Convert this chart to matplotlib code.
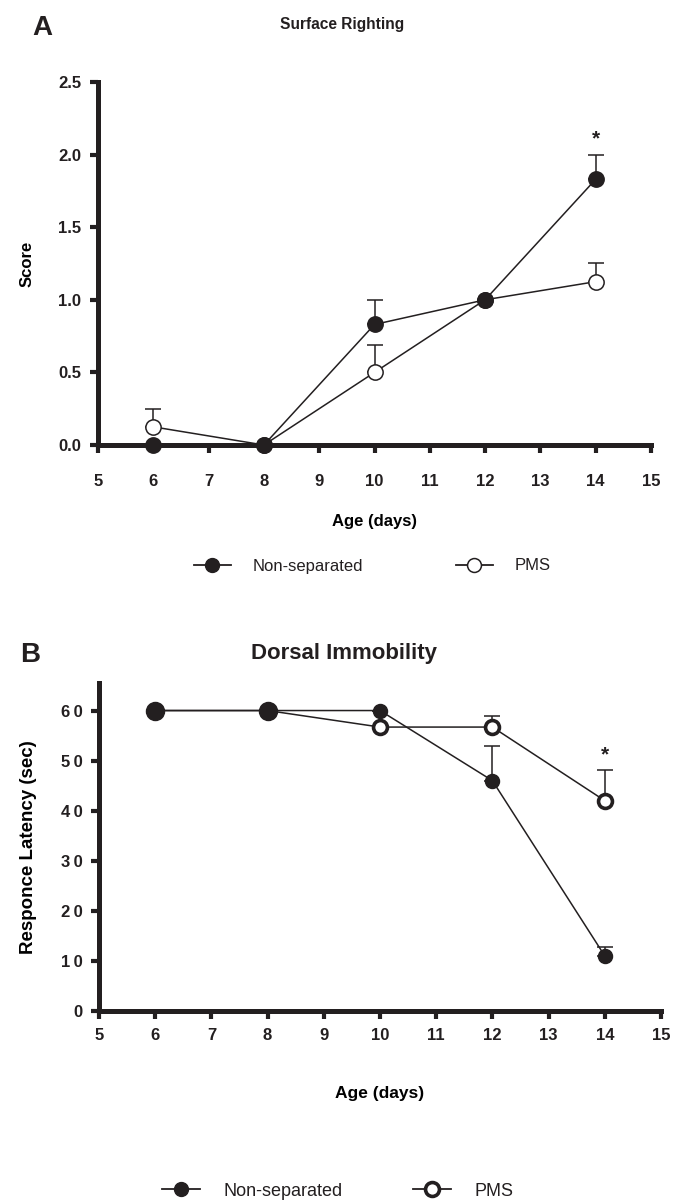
import numpy as np
import matplotlib
matplotlib.use("Agg")
import matplotlib.pyplot as plt
from matplotlib.lines import Line2D

plt.rcParams['font.family'] = ['Liberation Sans', 'DejaVu Sans']

# ---------------- data ----------------
days = [6, 8, 10, 12, 14]

# Surface righting (score)
sr_ns = [0.0, 0.0, 0.83, 1.0, 1.83]
sr_ns_err = [0.0, 0.0, 0.17, 0.0, 0.17]
sr_pms = [0.125, 0.0, 0.5, 1.0, 1.125]
sr_pms_err = [0.125, 0.0, 0.19, 0.0, 0.125]

# Dorsal immobility (response latency, sec)
di_ns = [60, 60, 60, 46, 11]
di_ns_err = [0, 0, 0, 7, 1.7]
di_pms = [60, 60, 56.7, 56.7, 42]
di_pms_err = [0, 0, 0, 2.2, 6.2]

xticks = list(range(5, 16))
sr_yticks = [0.0, 0.5, 1.0, 1.5, 2.0, 2.5]
di_yticks = [0, 10, 20, 30, 40, 50, 60]
labels = ['Non-separated', 'PMS']

INK = '#231f20'

fig = plt.figure(figsize=(6.79, 12.01), dpi=100)
axA = fig.add_axes([98 / 679, 1 - 445 / 1201, 553 / 679, 363 / 1201])
axB = fig.add_axes([99 / 679, 1 - 1011 / 1201, 562 / 679, 328 / 1201])


def style_axes(ax, pad):
    for s in ['top', 'right']:
        ax.spines[s].set_visible(False)
    for s in ['left', 'bottom']:
        ax.spines[s].set_linewidth(3.6)
        ax.spines[s].set_color(INK)
    ax.tick_params(direction='out', length=6, width=3, colors=INK,
                   labelsize=12)
    ax.tick_params(axis='x', pad=pad)
    ax.tick_params(axis='y', pad=6)
    for lab in ax.get_xticklabels() + ax.get_yticklabels():
        lab.set_fontweight('bold')


def draw_series(ax, y, err, filled, ms, mew):
    yerr = [np.zeros(len(err)), err]
    ax.errorbar(days, y, yerr=yerr, fmt='none', ecolor=INK,
                elinewidth=1.1, capsize=6, capthick=1.1, zorder=2)
    ax.plot(days, y, '-', color=INK, lw=1.1,
            marker='o', ms=ms, mew=mew,
            mfc=INK if filled else 'white', mec=INK, zorder=3)


# ---------------- panel A ----------------
draw_series(axA, sr_pms, sr_pms_err, False, 11, 1.1)
draw_series(axA, sr_ns, sr_ns_err, True, 11, 1.1)
axA.set_xlim(5, 15)
axA.set_ylim(0, 2.5)
axA.set_xticks(xticks)
axA.set_yticks(sr_yticks)
axA.set_yticklabels(['%.1f' % v for v in sr_yticks])
for art in axA.get_children():
    art.set_clip_on(False)
style_axes(axA, 15)
axA.set_xlabel('Age (days)', fontsize=12, fontweight='bold')
axA.xaxis.set_label_coords(0.5, -0.19)
axA.set_ylabel('Score', fontsize=12, fontweight='bold')
axA.yaxis.set_label_coords(-0.115, 0.5)
axA.text(14, 2.04, '*', ha='center', va='bottom', fontsize=15,
         fontweight='bold', color=INK)

fig.text(342 / 679, 1 - 25 / 1201, 'Surface Righting', ha='center',
         va='center', fontsize=11.2, fontweight='bold', color=INK)
fig.text(42 / 679, 1 - 28 / 1201, 'A', ha='center', va='center',
         fontsize=20, fontweight='bold', color=INK)

# ---------------- panel B ----------------
draw_series(axB, di_ns, di_ns_err, True, 10, 1.1)
draw_series(axB, di_pms, di_pms_err, False, 10, 2.6)
# larger overlapping dots at days 6 and 8
axB.plot(days[:2], di_ns[:2], 'o', color=INK, ms=13, zorder=4)
axB.set_xlim(5, 15)
axB.set_ylim(0, 65.5)
axB.set_xticks(xticks)
axB.set_yticks(di_yticks)
axB.set_yticklabels(['\u2009'.join(str(v)) for v in di_yticks])
for art in axB.get_children():
    art.set_clip_on(False)
style_axes(axB, 6)
axB.set_xlabel('Age (days)', fontsize=12.5, fontweight='bold')
axB.xaxis.set_label_coords(0.5, -0.229)
axB.set_ylabel('Responce Latency (sec)', fontsize=13.5, fontweight='bold')
axB.yaxis.set_label_coords(-0.11, 0.5)
axB.text(14, 49.2, '*', ha='center', va='bottom', fontsize=15,
         fontweight='bold', color=INK)

fig.text(344 / 679, 1 - 653 / 1201, 'Dorsal Immobility', ha='center',
         va='center', fontsize=16, fontweight='bold', color=INK)
fig.text(30 / 679, 1 - 655 / 1201, 'B', ha='center', va='center',
         fontsize=20, fontweight='bold', color=INK)


# ---------------- legends ----------------
def legend_handles(ms, mew_open):
    h1 = Line2D([], [], color=INK, lw=1.3, marker='o', ms=ms,
                mfc=INK, mec=INK)
    h2 = Line2D([], [], color=INK, lw=1.3, marker='o', ms=ms,
                mfc='white', mec=INK, mew=mew_open)
    return [h1, h2]


fig.legend(legend_handles(10, 1.1), labels,
           loc='center left', bbox_to_anchor=(194 / 679, 1 - 566 / 1201),
           ncol=2, frameon=False, fontsize=12, handlelength=2.2,
           columnspacing=5.6, handletextpad=1.3, borderpad=0,
           borderaxespad=0, labelcolor=INK)
fig.legend(legend_handles(10, 2.6), labels,
           loc='center left', bbox_to_anchor=(162 / 679, 1 - 1191 / 1201),
           ncol=2, frameon=False, fontsize=13, handlelength=2.1,
           columnspacing=3.9, handletextpad=1.3, borderpad=0,
           borderaxespad=0, labelcolor=INK)

fig.savefig('out.png', dpi=100)
